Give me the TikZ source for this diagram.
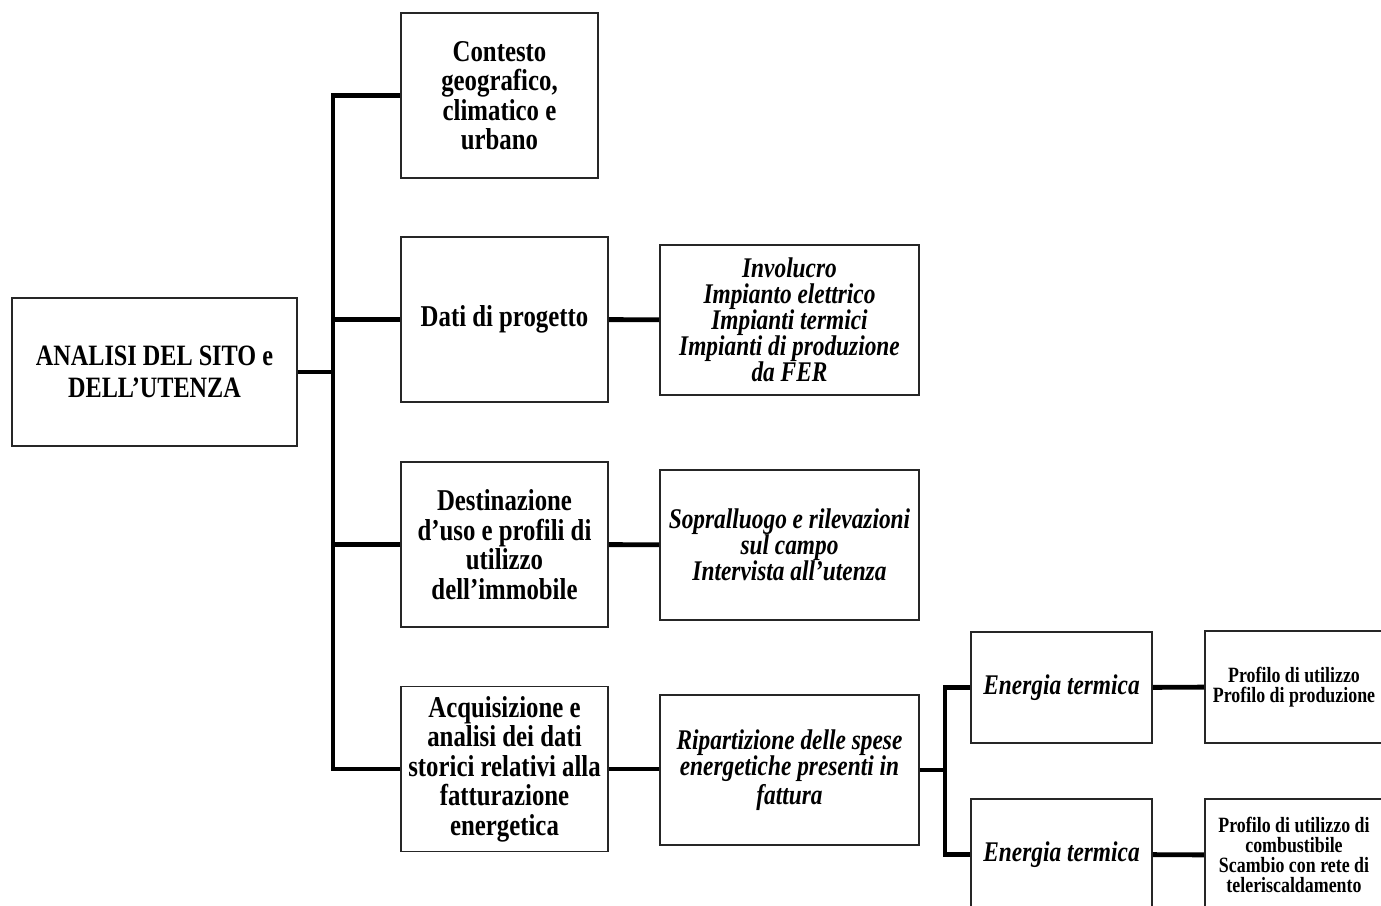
\documentclass[tikz,border=0pt]{standalone}
\usepackage{fontspec}
\setmainfont{Liberation Serif}[FakeStretch=0.82]

\begin{document}
\begin{tikzpicture}[x=0.01cm, y=-0.01cm,
    box/.style={draw=black!85, line width=0.45pt, align=center, inner sep=0pt},
    mainbox/.style={box, minimum width=2.85cm, minimum height=1.48cm, font=\bfseries\fontsize{8.4}{9.1}\selectfont},
    topicbox/.style={box, minimum width=2.07cm, minimum height=1.65cm, font=\bfseries\fontsize{8.6}{8.4}\selectfont},
    detailbox/.style={box, minimum width=2.59cm, minimum height=1.5cm, font=\bfseries\itshape\fontsize{8.1}{7.4}\selectfont},
    energybox/.style={box, minimum width=1.81cm, minimum height=1.11cm, font=\bfseries\itshape\fontsize{8.1}{7.4}\selectfont},
    profilebox/.style={box, minimum width=1.78cm, minimum height=1.12cm, font=\bfseries\fontsize{6.2}{5.7}\selectfont},
    link/.style={line width=1.4pt}]
            \useasboundingbox (0,0) rectangle (1381,906);
            \clip (0,0) rectangle (1381,906);

            \node[mainbox] (root) at (154.5,372) {ANALISI DEL SITO e\\DELL’UTENZA};

            \node[topicbox, minimum width=1.97cm] (contesto) at (499.5,95.5) {Contesto\\geografico,\\climatico e\\urbano};
            \node[topicbox] (dati) at (504.5,319.5) {Dati di progetto};
            \node[topicbox] (destinazione) at (504.5,544.5) {Destinazione\\d’uso e profili di\\utilizzo\\dell’immobile};
            \node[topicbox] (fatturazione) at (504.5,769) {Acquisizione e\\analisi dei dati\\storici relativi alla\\fatturazione\\energetica};

            \node[detailbox] (involucro) at (789.5,320) {Involucro\\Impianto elettrico\\Impianti termici\\Impianti di produzione\\da FER};
            \node[detailbox] (sopralluogo) at (789.5,545) {Sopralluogo e rilevazioni\\sul campo\\Intervista all’utenza};
            \node[detailbox] (ripartizione) at (789.5,770) {Ripartizione delle spese\\energetiche presenti in\\fattura};

            \node[energybox] (termicaA) at (1061.5,687.5) {Energia termica};
            \node[energybox] (termicaB) at (1061.5,854.5) {Energia termica};

            \node[profilebox] (profiloA) at (1294,687) {Profilo di utilizzo\\Profilo di produzione};
            \node[profilebox] (profiloB) at (1294,855) {Profilo di utilizzo di\\combustibile\\Scambio con rete di\\teleriscaldamento};

            \coordinate (trunk) at (333,372);
            \coordinate (split) at (945,770);

            \draw[link] (root.east) -- (trunk);
            \draw[link] (contesto.west) -| (trunk) |- (fatturazione.west);
            \draw[link] (trunk) |- (dati.west);
            \draw[link] (trunk) |- (destinazione.west);
            \draw[link] (dati) -- (involucro);
            \draw[link] (destinazione) -- (sopralluogo);
            \draw[link] (fatturazione.east) -- (ripartizione.west |- fatturazione.east);
            \draw[link] (ripartizione.east) -- (split);
            \draw[link] (termicaA.west) -| (split) |- (termicaB.west);
            \draw[link] (termicaA) -- (profiloA);
            \draw[link] (termicaB) -- (profiloB);
        \end{tikzpicture}
\end{document}
